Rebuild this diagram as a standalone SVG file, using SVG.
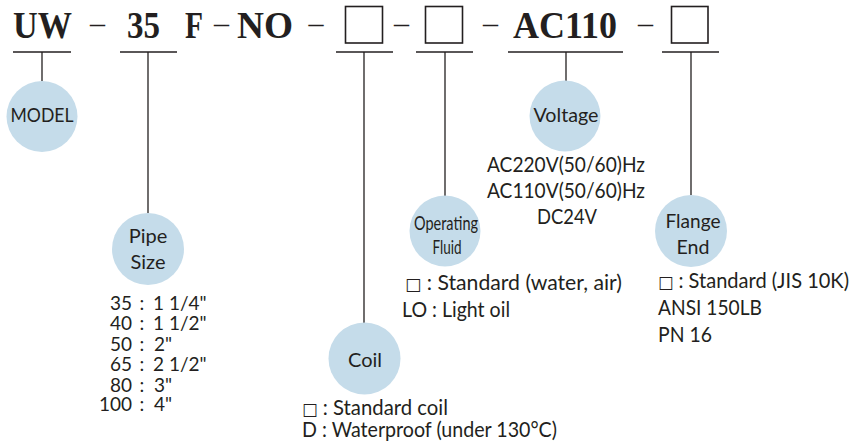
<svg xmlns="http://www.w3.org/2000/svg" width="856" height="444" viewBox="0 0 856 444">
<style>
.bg{fill:#ffffff}
.t{font-family:"Liberation Serif","Times New Roman",serif;font-weight:bold;font-size:38px;fill:#231f20}
.d{font-family:"Liberation Serif","Times New Roman",serif;font-size:30px;fill:#231f20;text-anchor:middle}
.box{fill:none;stroke:#231f20;stroke-width:1.6}
.ul{stroke:#231f20;stroke-width:1.3}
.ln{stroke:#231f20;stroke-width:1.3;fill:none}
.c{fill:#c5dcea}
.ct{font-family:Lato,"Noto Sans",sans-serif;font-size:20px;fill:#231f20;text-anchor:middle}
.l{font-family:Lato,"Noto Sans","DejaVu Sans",sans-serif;font-size:21px;fill:#231f20}
.p{font-family:Lato,"Noto Sans",sans-serif;font-size:19px;fill:#231f20}
.sq{font-family:"DejaVu Sans",sans-serif;font-size:17px}
.m{text-anchor:middle}
.e{text-anchor:end}
</style>
<rect class="bg" x="0" y="0" width="856" height="444"/>
<g id="code">
<text class="t" x="13" y="38" textLength="59" lengthAdjust="spacingAndGlyphs">UW</text>
<text class="d" x="97.5" y="33">–</text>
<text class="t" x="127" y="38" textLength="33" lengthAdjust="spacingAndGlyphs">35</text>
<text class="t" x="185" y="38" textLength="18" lengthAdjust="spacingAndGlyphs">F</text>
<text class="d" x="221.5" y="33">–</text>
<text class="t" x="237" y="38" textLength="56" lengthAdjust="spacingAndGlyphs">NO</text>
<text class="d" x="316" y="33">–</text>
<rect class="box" x="345.5" y="6.5" width="37" height="36.5"/>
<text class="d" x="401.5" y="33">–</text>
<rect class="box" x="425.5" y="6.5" width="37" height="36.5"/>
<text class="d" x="490.5" y="33">–</text>
<text class="t" x="513" y="38" textLength="104" lengthAdjust="spacingAndGlyphs">AC110</text>
<text class="d" x="645.5" y="33">–</text>
<rect class="box" x="671.5" y="6.5" width="36.5" height="36.5"/>
<line class="ul" x1="13" y1="52" x2="71" y2="52"/>
<line class="ul" x1="120" y1="52" x2="177" y2="52"/>
<line class="ul" x1="336" y1="52" x2="393" y2="52"/>
<line class="ul" x1="416" y1="52" x2="473" y2="52"/>
<line class="ul" x1="508" y1="52" x2="623" y2="52"/>
<line class="ul" x1="662" y1="52" x2="719" y2="52"/>
</g>
<g id="connectors">
<line class="ln" x1="42" y1="52" x2="42" y2="81"/>
<line class="ln" x1="148" y1="52" x2="148" y2="213"/>
<line class="ln" x1="364" y1="52" x2="364" y2="323"/>
<line class="ln" x1="445" y1="52" x2="445" y2="196"/>
<line class="ln" x1="566" y1="52" x2="566" y2="81"/>
<line class="ln" x1="691" y1="52" x2="691" y2="195"/>
</g>
<g id="model">
<circle class="c" cx="42" cy="116.5" r="35.5"/>
<text class="ct" x="42" y="122" textLength="63" lengthAdjust="spacingAndGlyphs">MODEL</text>
</g>
<g id="pipe-size">
<circle class="c" cx="148" cy="249" r="36"/>
<text class="ct" x="148" y="243">Pipe</text>
<text class="ct" x="148" y="269">Size</text>
<g class="p">
<text class="e" x="132" y="310">35</text><text class="m" x="142" y="310">:</text><text x="153" y="310">1 1/4"</text>
<text class="e" x="132" y="330">40</text><text class="m" x="142" y="330">:</text><text x="153" y="330">1 1/2"</text>
<text class="e" x="132" y="351">50</text><text class="m" x="142" y="351">:</text><text x="154" y="351">2"</text>
<text class="e" x="132" y="371">65</text><text class="m" x="142" y="371">:</text><text x="153" y="371">2 1/2"</text>
<text class="e" x="132" y="392">80</text><text class="m" x="142" y="392">:</text><text x="154" y="392">3"</text>
<text class="e" x="132" y="411">100</text><text class="m" x="142" y="411">:</text><text x="154" y="411">4"</text>
</g>
</g>
<g id="coil">
<circle class="c" cx="364.5" cy="358.5" r="36"/>
<text class="ct" x="365" y="367">Coil</text>
<text class="l" x="302" y="415" textLength="146" lengthAdjust="spacingAndGlyphs"><tspan class="sq">□</tspan> : Standard coil</text>
<text class="l" x="302" y="437" textLength="255" lengthAdjust="spacingAndGlyphs">D : Waterproof (under 130°C)</text>
</g>
<g id="operating-fluid">
<circle class="c" cx="445" cy="231" r="35.5"/>
<text class="ct" x="446" y="230" textLength="64" lengthAdjust="spacingAndGlyphs">Operating</text>
<text class="ct" x="447" y="254" textLength="29" lengthAdjust="spacingAndGlyphs">Fluid</text>
<text class="l" x="405" y="290" textLength="217" lengthAdjust="spacingAndGlyphs"><tspan class="sq">□</tspan> : Standard (water, air)</text>
<text class="l" x="402" y="317" textLength="108" lengthAdjust="spacingAndGlyphs">LO : Light oil</text>
</g>
<g id="voltage">
<circle class="c" cx="565" cy="116" r="35.5"/>
<text class="ct" x="566" y="122" textLength="65" lengthAdjust="spacingAndGlyphs">Voltage</text>
<text class="l m" x="566" y="172" textLength="158" lengthAdjust="spacingAndGlyphs">AC220V(50/60)Hz</text>
<text class="l m" x="566" y="198" textLength="158" lengthAdjust="spacingAndGlyphs">AC110V(50/60)Hz</text>
<text class="l m" x="567" y="224" textLength="60" lengthAdjust="spacingAndGlyphs">DC24V</text>
</g>
<g id="flange-end">
<circle class="c" cx="691" cy="231" r="36"/>
<text class="ct" x="693" y="228" textLength="55" lengthAdjust="spacingAndGlyphs">Flange</text>
<text class="ct" x="693" y="254" textLength="33" lengthAdjust="spacingAndGlyphs">End</text>
<text class="l" x="658" y="288" textLength="191" lengthAdjust="spacingAndGlyphs"><tspan class="sq">□</tspan> : Standard (JIS 10K)</text>
<text class="l" x="658" y="315" textLength="104" lengthAdjust="spacingAndGlyphs">ANSI 150LB</text>
<text class="l" x="658" y="342" textLength="54" lengthAdjust="spacingAndGlyphs">PN 16</text>
</g>
</svg>
